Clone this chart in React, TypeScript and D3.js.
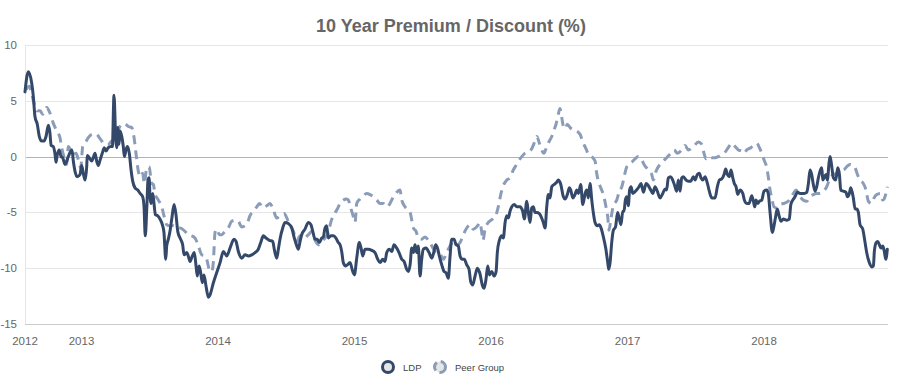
import React from 'react';
import * as d3 from 'd3';

// ---- data (time in decimal years, value in %) ----
const ldpSeries: [number, number][] = [
[2012.586,5.8],[2012.610,7.6],[2012.635,6.6],[2012.647,5.4],[2012.659,3.6],[2012.676,2.9],[2012.691,1.8],[2012.708,1.4],[2012.725,1.4],[2012.740,1.8],
[2012.757,2.8],[2012.769,2.1],[2012.777,1.0],[2012.793,0.9],[2012.806,0.2],[2012.813,-0.5],[2012.823,0.2],[2012.837,0.6],[2012.850,0.0],[2012.862,-0.1],
[2012.879,-0.7],[2012.892,-0.4],[2012.903,0.0],[2012.921,0.5],[2012.930,0.6],[2012.940,-0.4],[2012.952,-1.3],[2012.969,-1.8],[2012.989,-1.6],[2013.001,-0.8],
[2013.013,-1.5],[2013.026,-2.1],[2013.038,-0.9],[2013.042,0.1],[2013.057,-0.1],[2013.075,-0.4],[2013.086,-0.1],[2013.099,0.3],[2013.111,-0.4],[2013.123,-0.8],
[2013.136,-0.3],[2013.152,0.3],[2013.167,0.8],[2013.179,0.5],[2013.196,0.8],[2013.214,0.9],[2013.226,0.9],[2013.238,5.5],[2013.251,1.5],[2013.258,0.8],
[2013.265,2.6],[2013.275,1.1],[2013.282,2.3],[2013.295,1.8],[2013.306,0.9],[2013.314,0.0],[2013.326,0.6],[2013.336,0.9],[2013.350,0.3],[2013.363,-1.2],
[2013.375,-2.2],[2013.392,-2.8],[2013.412,-3.0],[2013.429,-3.3],[2013.448,-3.6],[2013.458,-4.5],[2013.467,-7.1],[2013.478,-4.7],[2013.487,-2.1],[2013.495,-1.9],
[2013.502,-3.6],[2013.509,-4.2],[2013.522,-3.3],[2013.531,-4.2],[2013.541,-5.2],[2013.558,-5.3],[2013.575,-5.6],[2013.592,-6.1],[2013.604,-6.8],[2013.617,-9.2],
[2013.624,-8.0],[2013.636,-7.4],[2013.648,-6.7],[2013.661,-5.6],[2013.678,-4.3],[2013.692,-5.2],[2013.705,-6.7],[2013.722,-7.3],[2013.741,-7.9],[2013.751,-8.8],
[2013.771,-8.6],[2013.782,-8.9],[2013.795,-9.4],[2013.812,-8.9],[2013.826,-8.6],[2013.839,-9.8],[2013.848,-10.7],[2013.861,-9.8],[2013.873,-10.4],[2013.885,-11.3],
[2013.897,-10.6],[2013.912,-11.6],[2013.929,-12.6],[2013.941,-12.4],[2013.966,-11.3],[2013.990,-10.4],[2014.015,-9.5],[2014.039,-8.5],[2014.064,-8.9],[2014.088,-8.2],
[2014.117,-7.4],[2014.132,-7.6],[2014.149,-8.5],[2014.174,-9.1],[2014.198,-8.8],[2014.222,-8.9],[2014.247,-8.8],[2014.271,-8.6],[2014.295,-8.3],[2014.313,-7.7],
[2014.332,-7.1],[2014.352,-7.3],[2014.376,-7.5],[2014.401,-7.6],[2014.412,-8.3],[2014.430,-9.1],[2014.442,-8.3],[2014.454,-7.4],[2014.474,-6.4],[2014.491,-5.9],
[2014.515,-6.0],[2014.540,-6.4],[2014.559,-7.3],[2014.577,-8.0],[2014.588,-8.3],[2014.601,-7.6],[2014.613,-7.0],[2014.637,-6.5],[2014.662,-5.9],[2014.681,-6.1],
[2014.694,-6.7],[2014.711,-7.4],[2014.727,-7.4],[2014.742,-7.7],[2014.760,-7.3],[2014.771,-7.2],[2014.784,-6.4],[2014.796,-6.2],[2014.808,-7.3],[2014.826,-7.1],
[2014.845,-7.1],[2014.864,-7.3],[2014.881,-7.7],[2014.894,-7.9],[2014.906,-8.5],[2014.918,-9.5],[2014.936,-9.8],[2014.947,-9.7],[2014.967,-9.5],[2014.987,-10.3],
[2014.999,-10.6],[2015.016,-9.1],[2015.035,-7.7],[2015.048,-8.2],[2015.060,-8.9],[2015.077,-8.3],[2015.101,-8.3],[2015.126,-8.4],[2015.150,-8.6],[2015.170,-9.2],
[2015.187,-9.5],[2015.207,-9.2],[2015.223,-9.4],[2015.236,-8.6],[2015.255,-8.3],[2015.273,-8.5],[2015.289,-7.9],[2015.309,-8.2],[2015.326,-8.6],[2015.346,-9.2],
[2015.363,-9.4],[2015.382,-10.1],[2015.394,-10.3],[2015.407,-9.7],[2015.419,-8.2],[2015.431,-8.6],[2015.443,-7.9],[2015.456,-8.6],[2015.467,-8.0],[2015.480,-10.7],
[2015.492,-9.2],[2015.504,-8.3],[2015.524,-8.2],[2015.546,-8.6],[2015.566,-9.1],[2015.582,-8.5],[2015.595,-7.9],[2015.610,-8.3],[2015.621,-8.9],[2015.639,-9.7],
[2015.656,-10.3],[2015.670,-10.4],[2015.687,-10.9],[2015.700,-8.9],[2015.712,-7.4],[2015.729,-7.4],[2015.744,-7.9],[2015.760,-8.0],[2015.773,-8.9],[2015.790,-9.2],
[2015.804,-9.2],[2015.822,-9.7],[2015.839,-10.1],[2015.851,-11.2],[2015.866,-11.5],[2015.883,-10.7],[2015.900,-10.0],[2015.919,-10.5],[2015.936,-11.5],[2015.949,-11.8],
[2015.963,-11.0],[2015.976,-9.8],[2015.988,-10.6],[2016.005,-10.3],[2016.022,-10.7],[2016.037,-10.3],[2016.046,-8.6],[2016.061,-7.5],[2016.078,-7.1],[2016.090,-7.3],
[2016.103,-5.9],[2016.115,-5.3],[2016.127,-5.5],[2016.139,-4.9],[2016.152,-4.5],[2016.171,-4.3],[2016.188,-4.5],[2016.212,-4.5],[2016.232,-4.9],[2016.244,-5.6],
[2016.262,-4.0],[2016.273,-5.0],[2016.286,-5.9],[2016.298,-4.6],[2016.310,-4.5],[2016.322,-5.0],[2016.335,-5.0],[2016.354,-5.1],[2016.371,-5.5],[2016.383,-5.9],
[2016.396,-6.4],[2016.408,-4.5],[2016.420,-3.4],[2016.432,-3.7],[2016.445,-2.7],[2016.462,-2.5],[2016.481,-2.3],[2016.493,-2.1],[2016.511,-2.5],[2016.530,-3.6],
[2016.542,-3.8],[2016.559,-3.4],[2016.574,-2.8],[2016.584,-3.0],[2016.599,-3.7],[2016.615,-3.4],[2016.628,-3.0],[2016.640,-3.3],[2016.657,-2.5],[2016.672,-4.3],
[2016.689,-3.3],[2016.701,-3.0],[2016.713,-3.7],[2016.725,-2.4],[2016.738,-3.9],[2016.749,-5.0],[2016.762,-5.9],[2016.779,-6.2],[2016.793,-6.1],[2016.806,-6.4],
[2016.823,-7.2],[2016.840,-8.2],[2016.855,-9.5],[2016.862,-10.1],[2016.872,-9.5],[2016.884,-7.7],[2016.896,-6.6],[2016.912,-6.3],[2016.927,-5.0],[2016.940,-5.6],
[2016.952,-6.1],[2016.965,-4.9],[2016.974,-4.9],[2016.984,-3.9],[2016.994,-3.6],[2017.006,-4.4],[2017.015,-3.0],[2017.026,-2.7],[2017.038,-3.3],[2017.050,-3.2],
[2017.066,-3.0],[2017.084,-2.7],[2017.099,-2.4],[2017.116,-3.2],[2017.136,-2.4],[2017.152,-2.6],[2017.170,-3.0],[2017.185,-3.3],[2017.201,-2.7],[2017.218,-3.1],
[2017.238,-3.7],[2017.258,-3.3],[2017.275,-2.9],[2017.286,-3.0],[2017.299,-1.9],[2017.316,-1.8],[2017.331,-2.1],[2017.348,-2.7],[2017.360,-3.1],[2017.372,-2.1],
[2017.385,-3.1],[2017.397,-1.9],[2017.409,-1.8],[2017.429,-2.1],[2017.445,-2.2],[2017.463,-2.2],[2017.482,-1.8],[2017.495,-2.1],[2017.511,-1.6],[2017.526,-1.5],
[2017.538,-1.9],[2017.551,-2.1],[2017.568,-1.8],[2017.585,-2.4],[2017.599,-3.1],[2017.617,-3.7],[2017.641,-3.7],[2017.658,-2.7],[2017.673,-2.1],[2017.690,-2.0],
[2017.707,-1.6],[2017.719,-1.1],[2017.731,-1.6],[2017.746,-1.8],[2017.758,-1.2],[2017.771,-1.9],[2017.782,-2.4],[2017.795,-2.7],[2017.807,-3.4],[2017.824,-3.0],
[2017.844,-3.3],[2017.856,-3.9],[2017.873,-4.2],[2017.890,-4.2],[2017.910,-3.5],[2017.922,-4.0],[2017.932,-4.5],[2017.941,-3.9],[2017.954,-4.2],[2017.966,-4.0],
[2017.983,-3.9],[2018.000,-3.1],[2018.020,-3.0],[2018.032,-3.4],[2018.044,-5.0],[2018.061,-6.8],[2018.073,-6.2],[2018.086,-5.3],[2018.097,-4.7],[2018.110,-5.3],
[2018.125,-5.8],[2018.141,-5.6],[2018.166,-5.7],[2018.185,-5.6],[2018.196,-4.3],[2018.210,-3.9],[2018.227,-3.6],[2018.244,-3.2],[2018.264,-3.3],[2018.293,-3.3],
[2018.313,-3.2],[2018.325,-2.4],[2018.337,-1.2],[2018.349,-1.6],[2018.361,-2.5],[2018.374,-3.1],[2018.386,-2.7],[2018.398,-1.9],[2018.410,-1.3],[2018.423,-1.0],
[2018.430,-2.1],[2018.440,-1.9],[2018.454,-1.6],[2018.464,-2.1],[2018.476,-0.6],[2018.484,0.0],[2018.496,-0.9],[2018.508,-1.9],[2018.525,-2.1],[2018.540,-1.0],
[2018.552,-1.6],[2018.562,-3.0],[2018.581,-3.1],[2018.601,-3.2],[2018.610,-3.6],[2018.625,-3.3],[2018.635,-2.8],[2018.654,-3.7],[2018.667,-4.7],[2018.679,-4.7],
[2018.691,-5.0],[2018.703,-6.1],[2018.723,-6.5],[2018.740,-7.7],[2018.752,-8.6],[2018.771,-9.5],[2018.789,-9.9],[2018.801,-9.8],[2018.808,-8.5],[2018.821,-7.7],
[2018.833,-7.6],[2018.845,-7.9],[2018.857,-8.2],[2018.870,-8.0],[2018.881,-8.5],[2018.892,-9.2],[2018.903,-8.3]
];

const peerSeries: [number, number][] = [
[2012.593,6.0],[2012.618,6.3],[2012.635,5.6],[2012.659,4.5],[2012.676,4.1],[2012.696,4.1],[2012.716,3.8],[2012.745,4.4],[2012.769,3.9],[2012.793,3.0],
[2012.818,2.3],[2012.842,1.7],[2012.855,0.8],[2012.879,-0.3],[2012.892,-0.7],[2012.903,0.9],[2012.921,0.6],[2012.940,0.2],[2012.960,0.3],[2012.977,-0.3],
[2012.994,-1.0],[2013.009,0.9],[2013.026,1.2],[2013.050,1.7],[2013.082,2.0],[2013.111,2.0],[2013.130,1.7],[2013.148,1.4],[2013.172,1.1],[2013.196,1.1],
[2013.221,1.4],[2013.245,1.5],[2013.270,2.4],[2013.295,2.9],[2013.319,2.9],[2013.343,2.7],[2013.368,2.6],[2013.385,1.7],[2013.399,0.3],[2013.416,-1.3],
[2013.429,-1.8],[2013.448,-1.5],[2013.460,-2.4],[2013.478,-1.0],[2013.495,-0.9],[2013.514,-2.4],[2013.526,-2.5],[2013.538,-3.3],[2013.563,-3.9],[2013.588,-4.5],
[2013.604,-5.3],[2013.624,-6.1],[2013.648,-6.2],[2013.673,-6.2],[2013.697,-6.4],[2013.722,-6.4],[2013.758,-6.7],[2013.782,-7.0],[2013.807,-7.1],[2013.832,-7.3],
[2013.856,-8.0],[2013.881,-8.8],[2013.905,-8.9],[2013.917,-9.2],[2013.936,-10.1],[2013.954,-10.3],[2013.966,-9.4],[2013.978,-6.8],[2013.990,-6.5],[2014.010,-7.0],
[2014.027,-7.0],[2014.051,-6.7],[2014.075,-6.4],[2014.100,-5.8],[2014.125,-5.7],[2014.149,-5.8],[2014.174,-6.3],[2014.210,-6.1],[2014.234,-5.3],[2014.259,-4.9],
[2014.284,-4.5],[2014.303,-4.2],[2014.332,-4.6],[2014.357,-4.4],[2014.381,-4.2],[2014.401,-4.6],[2014.430,-5.5],[2014.454,-5.3],[2014.484,-5.1],[2014.515,-5.8],
[2014.552,-6.7],[2014.577,-7.6],[2014.601,-7.1],[2014.630,-7.3],[2014.662,-7.0],[2014.686,-6.7],[2014.711,-7.5],[2014.735,-7.9],[2014.760,-7.6],[2014.784,-7.3],
[2014.808,-6.8],[2014.828,-5.8],[2014.850,-5.2],[2014.874,-4.7],[2014.894,-4.2],[2014.918,-3.9],[2014.943,-3.8],[2014.955,-3.9],[2014.972,-4.6],[2014.987,-5.2],
[2015.004,-5.9],[2015.016,-4.2],[2015.040,-3.8],[2015.064,-3.5],[2015.089,-3.3],[2015.114,-3.4],[2015.138,-3.6],[2015.163,-3.9],[2015.187,-4.2],[2015.211,-4.2],
[2015.236,-4.5],[2015.260,-4.2],[2015.284,-3.6],[2015.309,-3.2],[2015.333,-3.0],[2015.346,-3.9],[2015.370,-4.5],[2015.407,-5.0],[2015.431,-6.4],[2015.451,-6.7],
[2015.467,-7.3],[2015.492,-7.4],[2015.516,-7.2],[2015.541,-7.5],[2015.566,-8.0],[2015.590,-8.5],[2015.621,-8.6],[2015.651,-9.2],[2015.675,-8.6],[2015.700,-8.0],
[2015.724,-7.6],[2015.749,-7.9],[2015.773,-7.7],[2015.797,-7.0],[2015.822,-6.4],[2015.846,-6.1],[2015.870,-6.5],[2015.907,-6.1],[2015.919,-5.9],[2015.930,-6.6],
[2015.941,-7.5],[2015.956,-6.5],[2015.980,-5.9],[2016.012,-5.6],[2016.037,-5.2],[2016.053,-4.5],[2016.071,-3.4],[2016.090,-2.6],[2016.115,-2.1],[2016.139,-1.9],
[2016.163,-1.2],[2016.188,-0.7],[2016.207,-0.3],[2016.225,0.0],[2016.249,0.3],[2016.273,0.4],[2016.298,0.7],[2016.322,1.4],[2016.335,1.8],[2016.354,1.2],
[2016.371,0.6],[2016.388,0.3],[2016.408,0.9],[2016.427,1.4],[2016.445,1.8],[2016.462,2.4],[2016.476,2.9],[2016.493,3.8],[2016.505,4.3],[2016.518,3.5],
[2016.530,2.7],[2016.542,2.5],[2016.559,2.9],[2016.579,2.6],[2016.603,2.4],[2016.628,2.3],[2016.652,2.0],[2016.676,1.2],[2016.696,0.7],[2016.713,0.2],
[2016.738,0.0],[2016.762,-0.4],[2016.774,-1.5],[2016.786,-2.2],[2016.804,-2.8],[2016.823,-3.4],[2016.842,-4.5],[2016.855,-5.4],[2016.864,-6.6],[2016.879,-5.5],
[2016.896,-4.4],[2016.921,-3.9],[2016.940,-3.1],[2016.958,-2.7],[2016.974,-1.9],[2016.989,-1.1],[2017.006,-0.7],[2017.031,-0.5],[2017.055,-0.2],[2017.079,0.0],
[2017.104,-0.3],[2017.121,-0.7],[2017.152,-1.2],[2017.177,-1.6],[2017.189,-2.1],[2017.209,-1.3],[2017.238,-0.7],[2017.262,-0.4],[2017.287,-0.1],[2017.316,0.3],
[2017.341,0.6],[2017.365,0.3],[2017.397,0.6],[2017.421,1.0],[2017.445,0.6],[2017.482,0.9],[2017.519,1.3],[2017.544,1.1],[2017.560,0.3],[2017.575,-0.2],
[2017.592,0.0],[2017.617,-0.1],[2017.641,-0.1],[2017.665,0.0],[2017.690,0.2],[2017.707,0.3],[2017.738,0.8],[2017.763,1.2],[2017.788,0.9],[2017.812,0.6],
[2017.837,0.5],[2017.853,0.3],[2017.873,0.6],[2017.903,0.8],[2017.922,1.0],[2017.947,1.2],[2017.966,0.8],[2017.983,0.3],[2018.000,-0.3],[2018.020,-1.0],
[2018.032,-1.9],[2018.044,-3.0],[2018.056,-3.7],[2018.073,-4.5],[2018.093,-4.6],[2018.117,-4.3],[2018.141,-4.2],[2018.166,-4.1],[2018.185,-3.9],[2018.210,-3.4],
[2018.234,-3.0],[2018.264,-3.6],[2018.288,-3.9],[2018.313,-4.0],[2018.337,-3.6],[2018.361,-3.4],[2018.386,-3.3],[2018.410,-3.3],[2018.434,-3.1],[2018.459,-2.7],
[2018.484,-1.9],[2018.508,-1.6],[2018.533,-1.5],[2018.557,-1.2],[2018.581,-1.2],[2018.606,-0.9],[2018.630,-0.7],[2018.654,-0.8],[2018.667,-1.0],[2018.684,-1.6],
[2018.703,-2.1],[2018.727,-2.4],[2018.747,-3.0],[2018.764,-4.0],[2018.789,-4.2],[2018.806,-3.7],[2018.826,-3.4],[2018.850,-3.3],[2018.870,-3.9],[2018.886,-3.6],
[2018.903,-2.7]
];

const timeDomain = [2012.586, 2018.908];
const xTickValues = [2012.586, 2013, 2014, 2015, 2016, 2017, 2018];
const yTickValues = [-15, -10, -5, 0, 5, 10];
const seriesNames = ['LDP', 'Peer Group'];
const titleText = '10 Year Premium / Discount (%)';

const LDP_COLOR = '#34496a';
const PEER_COLOR = '#8b9cb9';
const FONT = '"Liberation Sans", Arial, Helvetica, sans-serif';

export default function App() {
  const W = 902, H = 376;
  const plot = { left: 25, right: 888, top: 45, bottom: 324 };
  const x = d3.scaleLinear().domain(timeDomain).range([plot.left, plot.right]);
  const y = d3.scaleLinear().domain([-15, 10]).range([plot.bottom, plot.top]);
  const line = d3.line<[number, number]>()
    .x(d => x(d[0]))
    .y(d => y(d[1]))
    .curve(d3.curveMonotoneX);

  return (
    <div style={{ position: 'absolute', left: 0, top: 0 }}>
      <svg width={W} height={H} style={{ display: 'block', fontFamily: FONT }}>
        <rect x={0} y={0} width={W} height={H} fill="#ffffff" />
        <text x={W / 2} y={32} textAnchor="middle" fontSize={18} fontWeight="bold" fill="#666666">{titleText}</text>
        {/* grid */}
        {yTickValues.map(v => (
          <line key={v} x1={plot.left} x2={plot.right} y1={Math.round(y(v)) + 0.5} y2={Math.round(y(v)) + 0.5}
            stroke={v === 0 ? '#b3b3b3' : (v === -15 ? '#cccccc' : '#e6e6e6')} strokeWidth={1} />
        ))}
        <line x1={plot.left + 0.5} x2={plot.left + 0.5} y1={plot.top} y2={plot.bottom} stroke="#e6e6e6" />
        {yTickValues.map(v => (
          <text key={'yl' + v} x={17} y={y(v) + 4} textAnchor="end" fontSize={11.5} fill="#666666">{v}</text>
        ))}
        {xTickValues.map(t => (
          <text key={'xl' + t} x={x(t)} y={345} textAnchor="middle" fontSize={11.5} fill="#666666">{String(Math.floor(t))}</text>
        ))}
        {/* series */}
        <path d={line(peerSeries) || ''} fill="none" stroke={PEER_COLOR} strokeWidth={3} strokeDasharray="9,6" strokeLinejoin="round" />
        <path d={line(ldpSeries) || ''} fill="none" stroke={LDP_COLOR} strokeWidth={3} strokeLinejoin="round" strokeLinecap="round" />
        {/* legend */}
        <circle cx={388} cy={367} r={5.5} fill="#e6e6e6" stroke={LDP_COLOR} strokeWidth={3} />
        <text x={403} y={370.5} fontSize={9.5} fill="#444444">{seriesNames[0]}</text>
        <circle cx={440} cy={367} r={5.5} fill="#e6e6e6" stroke={PEER_COLOR} strokeWidth={3} strokeDasharray="9,4" />
        <text x={455} y={370.5} fontSize={9.5} fill="#444444">{seriesNames[1]}</text>
      </svg>
    </div>
  );
}
